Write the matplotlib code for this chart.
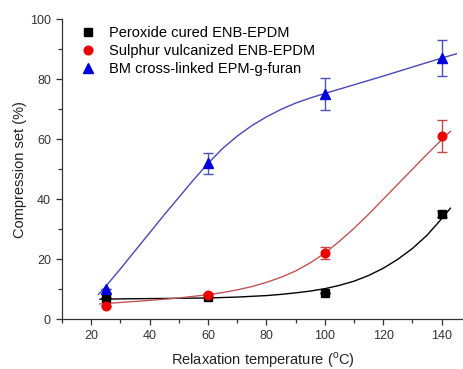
import numpy as np
import matplotlib
matplotlib.use('Agg')
import matplotlib.pyplot as plt
from matplotlib.ticker import MultipleLocator

plt.rcParams['font.family'] = ['Liberation Sans', 'DejaVu Sans']
plt.rcParams['mathtext.fontset'] = 'custom'
plt.rcParams['mathtext.rm'] = 'Liberation Sans'

# measured points
temps = [25, 60, 100, 140]
peroxide = [7.2, 7.5, 8.7, 35.0]
peroxide_err = [0.0, 0.0, 0.0, 1.0]
sulphur = [4.3, 8.0, 22.0, 61.0]
sulphur_err = [0.0, 0.5, 2.0, 5.4]
bm = [10.0, 52.0, 75.0, 87.0]
bm_err = [0.0, 3.5, 5.3, 6.1]

# fitted curves
fit_t_black = [23, 30, 40, 50, 60, 70, 80, 85, 90, 95, 100, 105, 110, 115,
               120, 125, 130, 135, 140, 143]
fit_black = [6.7, 6.8, 6.9, 7.0, 7.1, 7.4, 7.9, 8.3, 8.8, 9.4, 10.2, 11.3,
             12.7, 14.6, 17.0, 20.0, 23.6, 28.0, 33.5, 37.0]
fit_t_red = [23, 30, 40, 50, 60, 65, 70, 75, 80, 85, 90, 95, 100, 105, 110,
             115, 120, 125, 130, 135, 140, 143]
fit_red = [5.1, 5.6, 6.3, 7.1, 8.2, 8.9, 9.8, 10.9, 12.3, 14.0, 16.1, 18.8,
           22.0, 26.0, 30.3, 35.0, 40.0, 45.0, 50.0, 55.0, 59.8, 62.6]
fit_t_blue = [22.5, 25, 30, 35, 40, 45, 50, 55, 60, 65, 70, 75, 80, 85, 90,
              95, 100, 110, 120, 130, 140, 145]
fit_blue = [8.3, 11.0, 16.8, 22.8, 28.8, 34.8, 40.6, 46.4, 51.9, 56.9, 61.0,
            64.5, 67.4, 69.9, 72.0, 73.7, 75.2, 78.1, 81.0, 84.0, 87.0, 88.4]

labels = ['Peroxide cured ENB-EPDM', 'Sulphur vulcanized ENB-EPDM',
          'BM cross-linked EPM-g-furan']

fig = plt.figure(figsize=(4.64, 3.69), dpi=100)
ax = fig.add_axes([62 / 464, 49.7 / 369, 401 / 464, 300.3 / 369])

ax.plot(fit_t_black, fit_black, color='black', lw=1.0, zorder=2)
ax.plot(fit_t_red, fit_red, color='#c05555', lw=1.0, zorder=2)
ax.plot(fit_t_blue, fit_blue, color='#4848b8', lw=1.0, zorder=2)

ax.errorbar(temps, peroxide, yerr=peroxide_err, fmt='none', ecolor='black',
            elinewidth=1.0, capsize=3.5, zorder=3)
ax.errorbar(temps, sulphur, yerr=sulphur_err, fmt='none', ecolor='#c04848',
            elinewidth=1.0, capsize=3.5, zorder=3)
ax.errorbar(temps, bm, yerr=bm_err, fmt='none', ecolor='#5050b8',
            elinewidth=1.0, capsize=3.5, zorder=3)

h1, = ax.plot(temps, peroxide, 's', color='black', ms=5.5, mec='black', zorder=4)
h2, = ax.plot(temps, sulphur, 'o', color='#ee0000', ms=6.2, mec='#ee0000', zorder=4)
h3, = ax.plot(temps, bm, '^', color='#0000dd', ms=6.8, mec='#0000dd', zorder=4)

ax.legend([h1, h2, h3], labels, loc='upper left', frameon=False,
          fontsize=10.5, handlelength=1.0, handletextpad=1.0,
          labelspacing=0.3, borderaxespad=0.3, bbox_to_anchor=(0.02, 1.012))

ax.set_xlim(10, 147.3)
ax.set_ylim(0, 100)
ax.xaxis.set_minor_locator(MultipleLocator(10))
ax.yaxis.set_major_locator(MultipleLocator(20))
ax.yaxis.set_minor_locator(MultipleLocator(10))
ax.set_xticks([20, 40, 60, 80, 100, 120, 140])
ax.tick_params(which='both', direction='out', colors='#333333', labelsize=9)
ax.tick_params(which='major', length=4.5, width=0.9)
ax.tick_params(which='minor', length=3, width=0.9)
for s in ['top', 'right']:
    ax.spines[s].set_visible(False)
for s in ['left', 'bottom']:
    ax.spines[s].set_color('#333333')
    ax.spines[s].set_linewidth(0.9)

ax.set_xlabel(r'Relaxation temperature ($^{\mathrm{o}}$C)', fontsize=10.5,
              color='#222222', labelpad=6)
ax.set_ylabel('Compression set (%)', fontsize=10.5, color='#222222', labelpad=2)

fig.savefig('out.png', dpi=100)
